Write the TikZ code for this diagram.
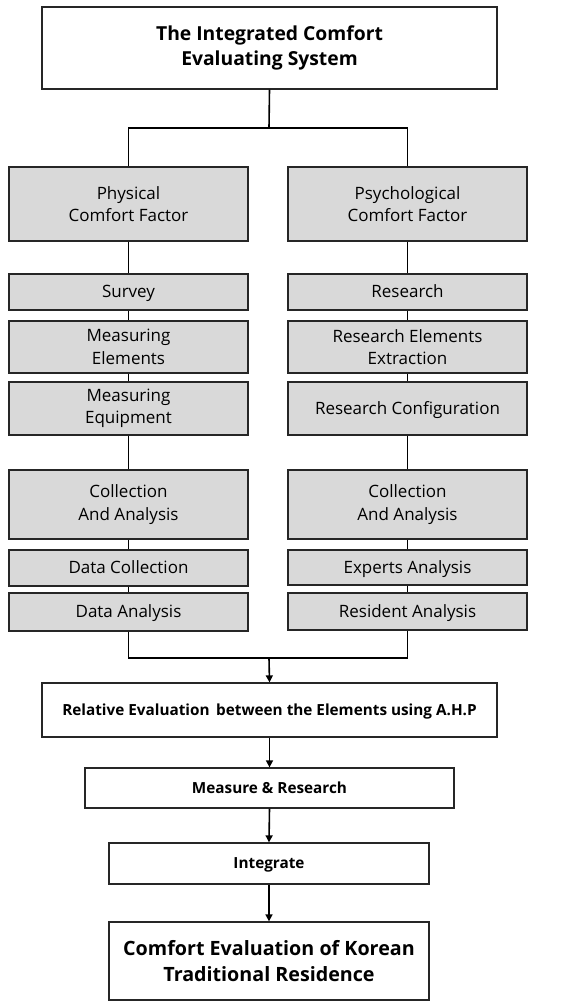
\documentclass[tikz,border=0pt]{standalone}
\usepackage{fontspec}
\setmainfont{Open Sans}
\usetikzlibrary{arrows.meta}
\begin{document}
\begin{tikzpicture}[x=1pt,y=-1pt,
  gbox/.style={draw=black!85,line width=1.1pt,fill=gray!30,inner sep=0pt,align=center,
    minimum width=239pt,font=\fontsize{17}{22.5}\selectfont},
  one/.style={text depth=0.2ex},
  wbox/.style={draw=black!85,line width=1.3pt,fill=white,inner sep=0pt,align=center,
    font=\bfseries\fontsize{15.3}{20}\selectfont},
  conn/.style={line width=1.6pt,black},
  arr/.style={conn,-{Triangle[length=7pt,width=7pt]}}]
\useasboundingbox (0,0) rectangle (568,1002);
% top
\node[wbox,minimum width=455pt,minimum height=82pt,font=\bfseries\fontsize{19.3}{25}\selectfont] (top) at (269.5,48) {The Integrated Comfort\\ Evaluating System};
\coordinate (j1) at (269,128);
% left column
\node[gbox,minimum height=74pt] (phys) at (128.5,204) {Physical\\Comfort Factor};
\node[gbox,one,minimum height=36pt] (survey) at (128.5,292) {Survey};
\node[gbox,minimum height=52pt] (melem) at (128.5,347) {Measuring\\Elements};
\node[gbox,minimum height=53pt] (mequip) at (128.5,408.5) {Measuring\\Equipment};
\node[gbox,minimum height=69pt] (lcoll) at (128.5,504.5) {Collection\\And Analysis};
\node[gbox,one,minimum height=36pt] (dcoll) at (128.5,568) {Data Collection};
\node[gbox,one,minimum height=38pt] (danal) at (128.5,612) {Data Analysis};
% right column
\node[gbox,minimum height=74pt] (psych) at (407.5,204) {Psychological\\Comfort Factor};
\node[gbox,one,minimum height=36pt] (research) at (407.5,292) {Research};
\node[gbox,minimum height=52pt] (relem) at (407.5,347) {Research Elements\\Extraction};
\node[gbox,one,minimum height=53pt] (rconf) at (407.5,408.5) {Research Configuration};
\node[gbox,minimum height=69pt] (rcoll) at (407.5,504.5) {Collection\\And Analysis};
\node[gbox,one,minimum height=35pt] (expert) at (407.5,567.5) {Experts Analysis};
\node[gbox,one,minimum height=37pt] (resid) at (407.5,611.5) {Resident Analysis};
\coordinate (j2) at (269,658);
% bottom
\node[wbox,one,minimum width=455pt,minimum height=54pt] (rel) at (269.5,710) {Relative Evaluation\, between the Elements using A.H.P};
\node[wbox,one,minimum width=369pt,minimum height=40pt] (meas) at (269.5,788) {Measure \& Research};
\node[wbox,one,minimum width=320pt,minimum height=41pt] (integ) at (269,863.5) {Integrate};
\node[wbox,minimum width=320pt,minimum height=78pt,font=\bfseries\fontsize{19.7}{26}\selectfont] (final) at (269,961) {Comfort Evaluation of Korean\\Traditional Residence};
% connectors
\draw[conn] (top.south) -- (j1);
\draw[conn] (phys.north) |- (j1) -| (psych.north);
\draw[conn] (phys.south) -- (survey.north);
\draw[conn] (survey.south) -- (melem.north);
\draw[conn] (melem.south) -- (mequip.north);
\draw[conn] (mequip.south) -- (lcoll.north);
\draw[conn] (lcoll.south) -- (dcoll.north);
\draw[conn] (dcoll.south) -- (danal.north);
\draw[conn] (psych.south) -- (research.north);
\draw[conn] (research.south) -- (relem.north);
\draw[conn] (relem.south) -- (rconf.north);
\draw[conn] (rconf.south) -- (rcoll.north);
\draw[conn] (rcoll.south) -- (expert.north);
\draw[conn] (expert.south) -- (resid.north);
\draw[conn] (danal.south) |- (j2) -| (resid.south);
\draw[arr] (j2) -- (rel.north);
\draw[arr] (rel.south) -- (meas.north);
\draw[arr] (meas.south) -- (integ.north);
\draw[arr] (integ.south) -- (final.north);
\end{tikzpicture}
\end{document}
